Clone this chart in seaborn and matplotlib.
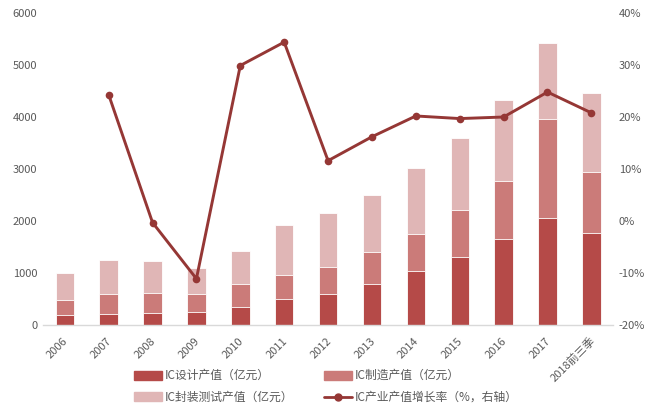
import numpy as np
import pandas as pd
import matplotlib
matplotlib.use('Agg')
import matplotlib.pyplot as plt
import matplotlib.transforms as mtransforms
import seaborn as sns
from matplotlib.patches import Patch
from matplotlib.lines import Line2D

# Data
years = ['2006', '2007', '2008', '2009', '2010', '2011', '2012',
         '2013', '2014', '2015', '2016', '2017', '2018前三季']
design = [186, 218, 237, 257, 353, 507, 603, 789, 1033, 1316, 1650, 2060, 1778]
manufacture = [295, 379, 379, 340, 443, 449, 514, 623, 719, 892, 1110, 1894, 1155]
packaging = [514, 655, 616, 501, 635, 963, 1033, 1091, 1258, 1393, 1572, 1470, 1521]
growth = [np.nan, 24.3, -0.3, -11.1, 29.9, 34.4, 11.6, 16.2, 20.2, 19.7, 20.0, 24.8, 20.8]

c_design = '#B54A48'
c_manu = '#CB7B79'
c_pack = '#E0B6B6'
c_line = '#953735'
grey = '#595959'

sns.set_theme(style='white')
plt.rcParams['font.family'] = ['Noto Sans CJK SC', 'DejaVu Sans']
plt.rcParams['axes.unicode_minus'] = False

df = pd.DataFrame({'year': years, 'design': design,
                   'manufacture': manufacture, 'packaging': packaging,
                   'growth': growth})
df['lvl2'] = df['design'] + df['manufacture']
df['lvl3'] = df['lvl2'] + df['packaging']
df['pos'] = np.arange(len(df))

fig = plt.figure(figsize=(6.49, 4.07), dpi=100)
ax = fig.add_axes([0.066, 0.2015, 0.879, 0.7665])

# stacked bars drawn as layered cumulative bars
for col, color in [('lvl3', c_pack), ('lvl2', c_manu), ('design', c_design)]:
    sns.barplot(data=df, x='year', y=col, color=color, width=0.42,
                edgecolor='white', linewidth=0.6, saturation=1, ax=ax)

ax.set_ylim(0, 6000)
ax.set_xlim(-0.5, len(years) - 0.5)
ax.set_yticks(range(0, 6001, 1000))
ax.set_xlabel('')
ax.set_ylabel('')
ax.tick_params(axis='both', length=0, labelsize=8, colors=grey, pad=4)
shift = mtransforms.ScaledTranslation(-2 / 100, -5 / 100, fig.dpi_scale_trans)
for lab in ax.get_xticklabels():
    lab.set_rotation(45)
    lab.set_ha('right')
    lab.set_rotation_mode('anchor')
    lab.set_transform(lab.get_transform() + shift)
for s in ['top', 'left', 'right']:
    ax.spines[s].set_visible(False)
ax.spines['bottom'].set_color('#D9D9D9')
ax.spines['bottom'].set_linewidth(1)

ax2 = ax.twinx()
sns.lineplot(data=df, x='pos', y='growth', color=c_line, linewidth=2.1,
             marker='o', markersize=5.5, markeredgewidth=0, ax=ax2)
ax2.set_ylim(-20, 40)
ax2.set_yticks(range(-20, 41, 10))
ax2.set_yticklabels([f'{v}%' for v in range(-20, 41, 10)])
ax2.set_ylabel('')
ax2.set_xlabel('')
ax2.tick_params(axis='y', length=0, labelsize=8, colors=grey, pad=4)
for s in ['top', 'left', 'right', 'bottom']:
    ax2.spines[s].set_visible(False)

handles = [Patch(color=c_design), Patch(color=c_pack),
           Patch(color=c_manu),
           Line2D([], [], color=c_line, linewidth=2, marker='o', markersize=5)]
labels = ['IC设计产值（亿元）', 'IC封装测试产值（亿元）',
          'IC制造产值（亿元）', 'IC产业产值增长率（%，右轴）']
fig.legend(handles, labels, ncol=2, loc='center left',
           bbox_to_anchor=(0.19, 0.05), frameon=False, fontsize=8.5,
           labelcolor=grey, handlelength=2.4, handleheight=0.8,
           handletextpad=0.2, columnspacing=2.6, labelspacing=0.75)

fig.savefig('out.png', dpi=100)
